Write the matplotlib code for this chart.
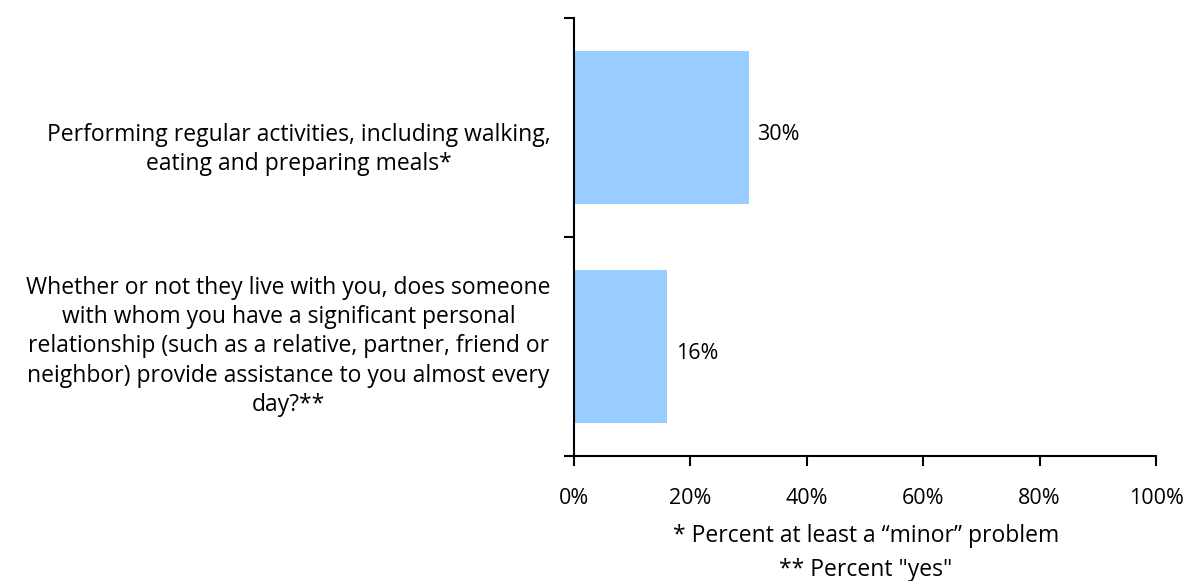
import matplotlib
matplotlib.use("Agg")
import matplotlib.pyplot as plt
from matplotlib.ticker import FuncFormatter

categories = [
    "Performing regular activities, including walking,\neating and preparing meals*",
    "Whether or not they live with you, does someone\nwith whom you have a significant personal\nrelationship (such as a relative, partner, friend or\nneighbor) provide assistance to you almost every\nday?**",
]
values = [30, 16]
x_ticks = [0, 20, 40, 60, 80, 100]
footnotes = ["* Percent at least a \u201cminor\u201d problem", "** Percent \"yes\""]

plt.rcParams['font.family'] = ['Open Sans', 'DejaVu Sans']
FS = 16.5
FS_T = 15.5

fig = plt.figure(figsize=(11.88, 5.81), dpi=100)
ax = fig.add_axes([574/1188, 1-456/581, (1156-574)/1188, (456-18)/581])

pos = list(range(len(categories)))
ax.barh(pos, values, height=0.70, color="#99CCFF", edgecolor="none")
ax.set_xlim(0, 100)
ax.set_ylim(len(categories)-0.5, -0.5)

for p, v in zip(pos, values):
    ax.text(v + 1.5, p + 0.03, f"{v}%", va="center", ha="left", fontsize=FS_T, color="black")

label_offsets = [0.1, 0.0]
for p, c, off in zip(pos, categories, label_offsets):
    ax.text(-4.0, p + off, c, va="center", ha="right", fontsize=FS, multialignment="center",
            transform=ax.transData, linespacing=1.28)

ax.set_yticks([p - 0.5 for p in pos] + [len(categories) - 0.5])
ax.set_yticklabels([])
ax.set_xticks(x_ticks)
ax.xaxis.set_major_formatter(FuncFormatter(lambda x, _: f"{int(x)}%"))
ax.tick_params(axis="x", direction="out", length=7, width=1.5, labelsize=FS_T, pad=16)
ax.tick_params(axis="y", direction="out", length=7, width=1.5)
for s in ["top", "right"]:
    ax.spines[s].set_visible(False)
for s in ["left", "bottom"]:
    ax.spines[s].set_linewidth(1.5)

fig.text(866/1188, 1-536/581, footnotes[0], ha="center", va="center", fontsize=FS)
fig.text(866/1188, 1-570/581, footnotes[1], ha="center", va="center", fontsize=FS)

fig.savefig("out.png", dpi=100)
